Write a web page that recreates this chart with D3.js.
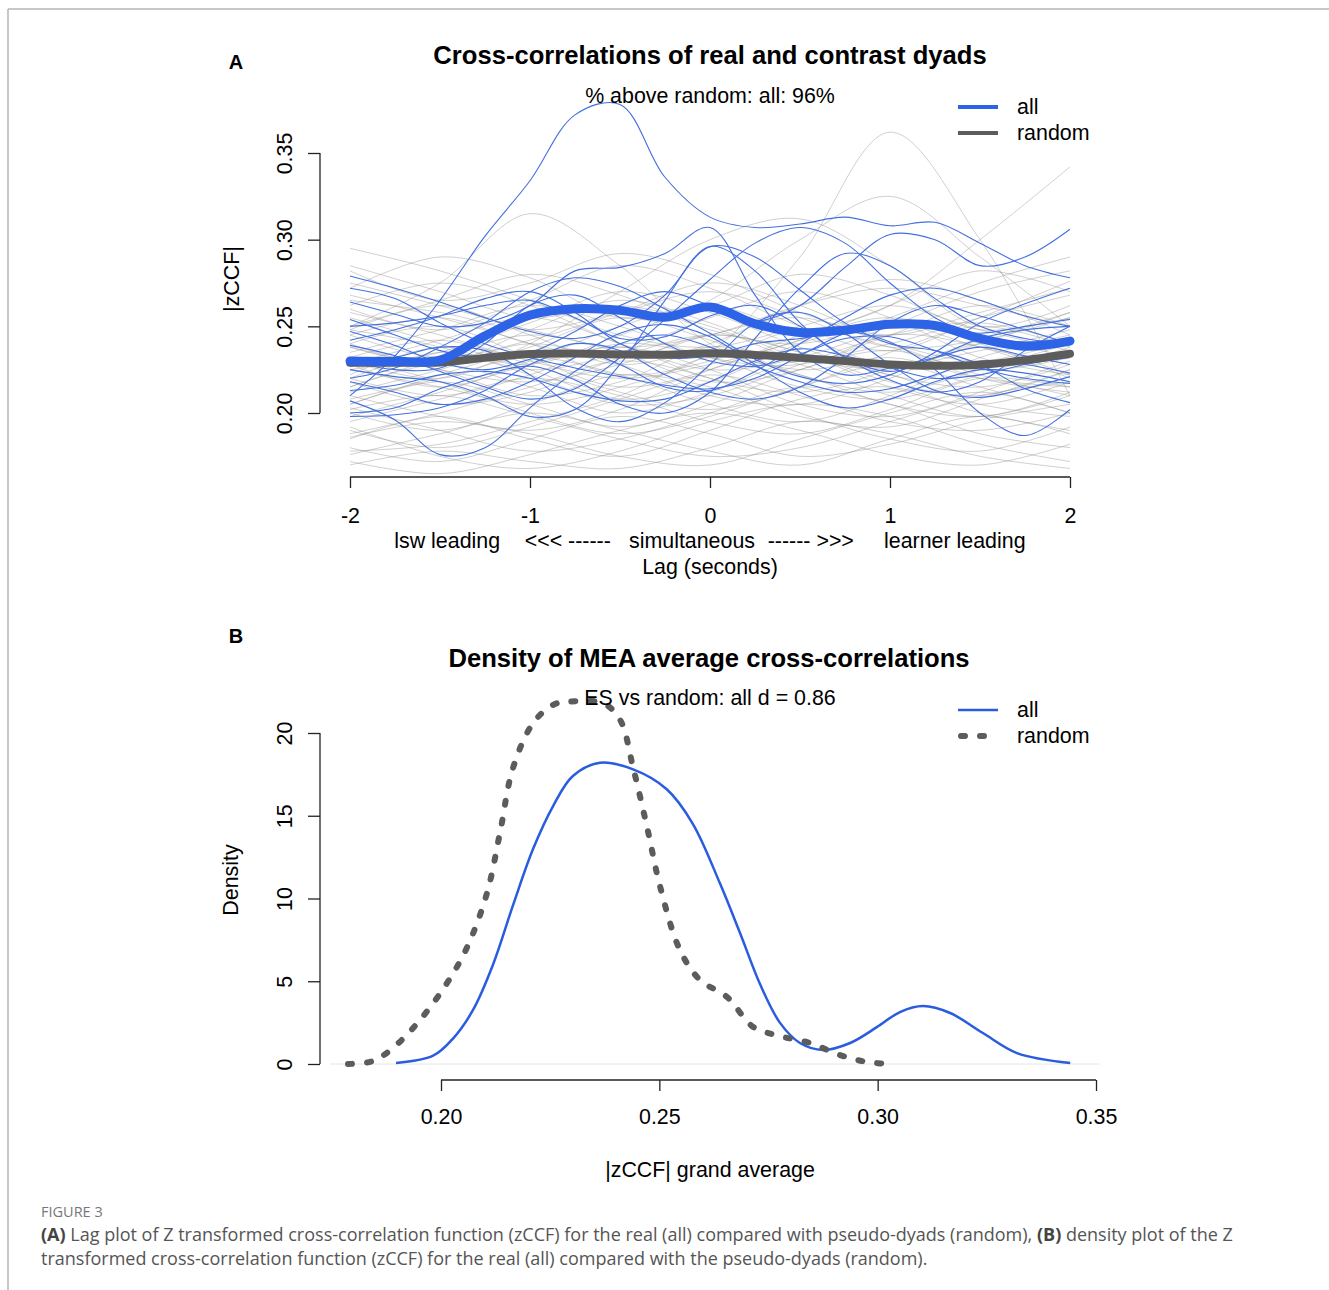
<!DOCTYPE html>
<html>
<head>
<meta charset="utf-8">
<script src="https://cdn.jsdelivr.net/npm/d3@7"></script>
<style>
  body { margin: 0; background: #fff; }
  svg text { font-family: "Liberation Sans", Arial, sans-serif; fill: #000; }
  svg text.caption { font-family: "Open Sans", sans-serif; fill: #555; }
</style>
</head>
<body>
<svg id="fig" width="1329" height="1290"></svg>
<script>
// ---- data ----
const lagFine = [-2, -1.75, -1.5, -1.25, -1, -0.75, -0.5, -0.25, 0, 0.25, 0.5, 0.75, 1, 1.25, 1.5, 1.75, 2];
const lagCoarse = [-2, -1.5, -1, -0.5, 0, 0.5, 1, 1.5, 2];
const lagTicks = [-2, -1, 0, 1, 2];
const zTicks = [0.20, 0.25, 0.30, 0.35];
const lagNotes = ["lsw leading", "<<< ------", "simultaneous", "------ >>>", "learner leading"];
const lagNotePos = [-1.46, -0.79, -0.10, 0.56, 1.36];

const meanAll = [0.2300, 0.2298, 0.2305, 0.2445, 0.2565, 0.2602, 0.2592, 0.2552, 0.2612,
  0.2515, 0.2465, 0.2478, 0.2512, 0.2505, 0.2430, 0.2385, 0.2415];
const meanRandom = [0.2290, 0.2290, 0.2292, 0.2318, 0.2340, 0.2343, 0.2338, 0.2336, 0.2345,
  0.2335, 0.2318, 0.2300, 0.2280, 0.2272, 0.2278, 0.2305, 0.2342];

// real dyads (blue), one row per dyad, on lagFine
const realDyads = [
  [0.210, 0.233, 0.265, 0.302, 0.334, 0.372, 0.378, 0.336, 0.313, 0.307, 0.309, 0.313, 0.308, 0.310, 0.298, 0.285, 0.278],
  [0.279, 0.272, 0.264, 0.255, 0.247, 0.243, 0.250, 0.268, 0.296, 0.290, 0.271, 0.252, 0.240, 0.236, 0.228, 0.214, 0.206],
  [0.264, 0.257, 0.250, 0.252, 0.262, 0.282, 0.284, 0.292, 0.307, 0.268, 0.235, 0.222, 0.226, 0.232, 0.238, 0.233, 0.228],
  [0.254, 0.245, 0.236, 0.232, 0.235, 0.247, 0.262, 0.270, 0.262, 0.253, 0.262, 0.284, 0.303, 0.300, 0.285, 0.290, 0.306],
  [0.207, 0.196, 0.176, 0.180, 0.203, 0.224, 0.240, 0.245, 0.238, 0.227, 0.218, 0.212, 0.214, 0.222, 0.230, 0.228, 0.223],
  [0.200, 0.203, 0.214, 0.222, 0.227, 0.219, 0.205, 0.200, 0.212, 0.243, 0.272, 0.292, 0.285, 0.266, 0.250, 0.243, 0.240],
  [0.242, 0.248, 0.256, 0.266, 0.270, 0.258, 0.240, 0.232, 0.233, 0.240, 0.243, 0.247, 0.241, 0.225, 0.200, 0.187, 0.202],
  [0.225, 0.221, 0.218, 0.210, 0.198, 0.202, 0.228, 0.265, 0.296, 0.282, 0.252, 0.232, 0.224, 0.232, 0.243, 0.248, 0.250],
  [0.198, 0.199, 0.203, 0.213, 0.228, 0.236, 0.228, 0.215, 0.213, 0.224, 0.240, 0.255, 0.268, 0.272, 0.265, 0.256, 0.250],
  [0.220, 0.226, 0.238, 0.252, 0.270, 0.278, 0.273, 0.260, 0.246, 0.231, 0.221, 0.217, 0.222, 0.235, 0.252, 0.263, 0.272],
  [0.247, 0.239, 0.229, 0.225, 0.231, 0.240, 0.236, 0.222, 0.212, 0.208, 0.215, 0.232, 0.252, 0.262, 0.256, 0.248, 0.240],
  [0.230, 0.225, 0.226, 0.240, 0.262, 0.268, 0.255, 0.240, 0.230, 0.227, 0.234, 0.243, 0.244, 0.236, 0.226, 0.220, 0.217],
  [0.213, 0.216, 0.222, 0.224, 0.220, 0.212, 0.207, 0.208, 0.218, 0.230, 0.237, 0.233, 0.226, 0.220, 0.222, 0.228, 0.232],
  [0.272, 0.266, 0.252, 0.240, 0.232, 0.226, 0.221, 0.216, 0.214, 0.220, 0.233, 0.246, 0.252, 0.250, 0.246, 0.250, 0.254],
  [0.227, 0.232, 0.238, 0.236, 0.222, 0.203, 0.195, 0.206, 0.228, 0.252, 0.258, 0.246, 0.228, 0.213, 0.209, 0.214, 0.221],
  [0.250, 0.252, 0.256, 0.262, 0.265, 0.255, 0.243, 0.244, 0.256, 0.262, 0.250, 0.232, 0.219, 0.212, 0.218, 0.236, 0.250],
  [0.239, 0.233, 0.224, 0.215, 0.208, 0.214, 0.232, 0.254, 0.277, 0.298, 0.307, 0.298, 0.275, 0.255, 0.244, 0.241, 0.243],
  [0.218, 0.212, 0.205, 0.208, 0.218, 0.232, 0.246, 0.251, 0.244, 0.228, 0.212, 0.203, 0.208, 0.218, 0.225, 0.223, 0.218]
];

// pseudo dyads (grey), on lagCoarse
const randomDyads = [
  [0.225, 0.215, 0.205, 0.215, 0.235, 0.290, 0.362, 0.300, 0.210],
  [0.240, 0.250, 0.232, 0.215, 0.225, 0.245, 0.262, 0.300, 0.342],
  [0.250, 0.275, 0.315, 0.285, 0.240, 0.225, 0.232, 0.220, 0.215],
  [0.230, 0.220, 0.240, 0.270, 0.300, 0.312, 0.285, 0.250, 0.262],
  [0.220, 0.235, 0.228, 0.245, 0.265, 0.300, 0.325, 0.290, 0.250],
  [0.285, 0.270, 0.255, 0.262, 0.250, 0.232, 0.240, 0.255, 0.268],
  [0.295, 0.282, 0.265, 0.245, 0.238, 0.250, 0.262, 0.248, 0.236],
  [0.272, 0.290, 0.278, 0.255, 0.262, 0.280, 0.268, 0.248, 0.255],
  [0.260, 0.248, 0.265, 0.285, 0.272, 0.250, 0.236, 0.255, 0.276],
  [0.248, 0.262, 0.245, 0.228, 0.240, 0.262, 0.277, 0.265, 0.245],
  [0.240, 0.228, 0.248, 0.265, 0.252, 0.232, 0.226, 0.240, 0.258],
  [0.235, 0.248, 0.262, 0.250, 0.232, 0.228, 0.245, 0.262, 0.250],
  [0.228, 0.215, 0.230, 0.250, 0.262, 0.245, 0.228, 0.236, 0.248],
  [0.222, 0.238, 0.225, 0.208, 0.218, 0.240, 0.252, 0.238, 0.228],
  [0.218, 0.205, 0.212, 0.232, 0.245, 0.235, 0.218, 0.210, 0.225],
  [0.212, 0.225, 0.240, 0.228, 0.210, 0.205, 0.220, 0.240, 0.232],
  [0.205, 0.218, 0.205, 0.192, 0.205, 0.225, 0.236, 0.222, 0.210],
  [0.200, 0.190, 0.205, 0.222, 0.215, 0.198, 0.192, 0.208, 0.225],
  [0.195, 0.208, 0.220, 0.210, 0.195, 0.188, 0.202, 0.220, 0.215],
  [0.190, 0.180, 0.192, 0.208, 0.222, 0.210, 0.195, 0.190, 0.200],
  [0.185, 0.198, 0.185, 0.175, 0.190, 0.208, 0.215, 0.200, 0.190],
  [0.180, 0.172, 0.185, 0.198, 0.188, 0.175, 0.182, 0.196, 0.205],
  [0.176, 0.188, 0.200, 0.190, 0.178, 0.170, 0.185, 0.198, 0.188],
  [0.172, 0.165, 0.176, 0.190, 0.200, 0.190, 0.176, 0.170, 0.182],
  [0.205, 0.222, 0.238, 0.255, 0.242, 0.222, 0.212, 0.225, 0.240],
  [0.232, 0.242, 0.228, 0.212, 0.202, 0.215, 0.235, 0.250, 0.238],
  [0.255, 0.240, 0.225, 0.235, 0.255, 0.270, 0.255, 0.232, 0.222],
  [0.245, 0.232, 0.242, 0.258, 0.275, 0.262, 0.240, 0.225, 0.232],
  [0.268, 0.255, 0.240, 0.222, 0.230, 0.248, 0.238, 0.220, 0.212],
  [0.225, 0.235, 0.252, 0.270, 0.258, 0.238, 0.222, 0.215, 0.228],
  [0.210, 0.198, 0.190, 0.202, 0.225, 0.242, 0.255, 0.240, 0.222],
  [0.198, 0.212, 0.228, 0.238, 0.225, 0.205, 0.198, 0.212, 0.230],
  [0.215, 0.228, 0.215, 0.200, 0.212, 0.230, 0.222, 0.205, 0.198],
  [0.238, 0.225, 0.210, 0.218, 0.238, 0.228, 0.210, 0.198, 0.212],
  [0.262, 0.275, 0.262, 0.240, 0.225, 0.232, 0.250, 0.270, 0.282],
  [0.282, 0.265, 0.275, 0.292, 0.280, 0.258, 0.245, 0.258, 0.272],
  [0.250, 0.265, 0.280, 0.268, 0.248, 0.240, 0.255, 0.275, 0.290],
  [0.232, 0.218, 0.200, 0.188, 0.198, 0.215, 0.228, 0.215, 0.200],
  [0.188, 0.200, 0.215, 0.230, 0.220, 0.200, 0.185, 0.178, 0.192],
  [0.203, 0.190, 0.178, 0.185, 0.200, 0.215, 0.205, 0.188, 0.180],
  [0.178, 0.182, 0.195, 0.210, 0.232, 0.222, 0.205, 0.198, 0.210],
  [0.245, 0.255, 0.240, 0.232, 0.245, 0.255, 0.240, 0.230, 0.242],
  [0.220, 0.210, 0.222, 0.240, 0.232, 0.215, 0.208, 0.222, 0.238],
  [0.258, 0.245, 0.230, 0.220, 0.228, 0.242, 0.262, 0.282, 0.270],
  [0.208, 0.220, 0.232, 0.222, 0.205, 0.195, 0.210, 0.232, 0.245],
  [0.192, 0.175, 0.168, 0.178, 0.195, 0.205, 0.198, 0.182, 0.172],
  [0.228, 0.242, 0.255, 0.240, 0.220, 0.212, 0.225, 0.242, 0.258],
  [0.265, 0.258, 0.248, 0.258, 0.270, 0.255, 0.238, 0.242, 0.255],
  [0.215, 0.232, 0.245, 0.235, 0.218, 0.225, 0.245, 0.238, 0.220],
  [0.238, 0.225, 0.218, 0.228, 0.245, 0.235, 0.215, 0.205, 0.218],
  [0.186, 0.195, 0.188, 0.175, 0.170, 0.185, 0.200, 0.212, 0.200],
  [0.170, 0.178, 0.172, 0.168, 0.180, 0.195, 0.188, 0.175, 0.168],
  [0.202, 0.210, 0.198, 0.185, 0.175, 0.180, 0.195, 0.210, 0.218],
  [0.248, 0.238, 0.222, 0.205, 0.210, 0.228, 0.245, 0.252, 0.240],
  [0.275, 0.262, 0.248, 0.238, 0.245, 0.262, 0.272, 0.262, 0.250]
];

// density curves (panel B)
const densAllX = [0.1897, 0.1982, 0.2028, 0.2073, 0.2119, 0.2165, 0.2211, 0.2257, 0.2302, 0.2364, 0.2440,
  0.2517, 0.2577, 0.2639, 0.2685, 0.2731, 0.2776, 0.2822, 0.2875, 0.2937, 0.2999, 0.3051, 0.3104,
  0.3166, 0.3241, 0.3319, 0.3441];
const densAllY = [0.06, 0.50, 1.55, 3.25, 6.0, 9.6, 13.0, 15.6, 17.4, 18.2, 17.8,
  16.6, 14.5, 10.9, 7.9, 4.8, 2.5, 1.27, 0.85, 1.27, 2.24, 3.14, 3.5,
  3.08, 1.87, 0.66, 0.06];
const densRandX = [0.1787, 0.1844, 0.1890, 0.1952, 0.2014, 0.2060, 0.2105, 0.2135, 0.2165, 0.2211, 0.2257,
  0.2295, 0.2371, 0.2410, 0.2440, 0.2472, 0.2502, 0.2547, 0.2593, 0.2655, 0.2715, 0.2776, 0.2845,
  0.2914, 0.2976, 0.3035];
const densRandY = [0, 0.18, 0.97, 2.66, 4.9, 7.07, 10.3, 13.96, 17.9, 20.6, 21.7,
  21.9, 21.8, 20.8, 17.9, 14.3, 10.7, 6.9, 5.08, 4.05, 2.24, 1.69, 1.27,
  0.54, 0.12, 0];
const densXTicks = [0.20, 0.25, 0.30, 0.35];
const densYTicks = [0, 5, 10, 15, 20];

const blueThin = "#4370e0";
const blueThick = "#2d63e6";
const greyThick = "#5c5c5c";
const fs = 21.4;      // R text size in the figure
const fsTitle = 25.6;

const svg = d3.select("#fig");

// frame of the figure page
svg.append("line").attr("x1", 8).attr("x2", 1329).attr("y1", 9).attr("y2", 9)
  .attr("stroke", "#b5b5b5").attr("stroke-width", 1.5);
svg.append("line").attr("x1", 8).attr("x2", 8).attr("y1", 9).attr("y2", 1290)
  .attr("stroke", "#b5b5b5").attr("stroke-width", 1.5);

const hyphenFmt = f => v => f(v).replace("\u2212", "-");

// R-style left axis: line only between first and last tick, labels parallel to axis
function leftAxis(scale, ticks, fmt, x) {
  const ax = svg.append("g")
    .attr("transform", `translate(${x},0)`)
    .call(d3.axisLeft(scale).tickValues(ticks).tickSize(12).tickFormat(fmt));
  ax.attr("font-family", null).attr("font-size", null);
  ax.select(".domain").remove();
  ax.append("line")
    .attr("y1", scale(ticks[0])).attr("y2", scale(ticks[ticks.length - 1]))
    .attr("stroke", "#222").attr("stroke-width", 1.3);
  ax.selectAll(".tick line").attr("stroke", "#222").attr("stroke-width", 1.3);
  ax.selectAll(".tick text")
    .attr("transform", "rotate(-90)")
    .attr("x", 0).attr("y", -28).attr("dy", null)
    .attr("text-anchor", "middle")
    .attr("font-size", fs).attr("fill", "#000");
}

function bottomAxis(scale, ticks, fmt, y, labelY) {
  const ax = svg.append("g")
    .attr("transform", `translate(0,${y})`)
    .call(d3.axisBottom(scale).tickValues(ticks).tickSize(11).tickFormat(fmt));
  ax.attr("font-family", null).attr("font-size", null);
  ax.select(".domain").remove();
  ax.append("line")
    .attr("x1", scale(ticks[0])).attr("x2", scale(ticks[ticks.length - 1]))
    .attr("stroke", "#222").attr("stroke-width", 1.3);
  ax.selectAll(".tick line").attr("stroke", "#222").attr("stroke-width", 1.3);
  ax.selectAll(".tick text")
    .attr("y", labelY).attr("dy", null)
    .attr("font-size", fs).attr("fill", "#000");
}

function label(x, y, str, size, opts = {}) {
  const t = svg.append("text")
    .attr("x", x).attr("y", y)
    .attr("text-anchor", opts.anchor || "middle")
    .attr("font-size", size)
    .text(str);
  if (opts.bold) t.attr("font-weight", "bold");
  if (opts.rotate) t.attr("transform", `rotate(-90,${x},${y})`);
  return t;
}

// ===== Panel A: lag plot =====
const xA = d3.scaleLinear().domain([-2, 2]).range([350, 1070]);
const yA = d3.scaleLinear().domain([0.20, 0.35]).range([413, 153]);

svg.append("clipPath").attr("id", "clipA")
  .append("rect").attr("x", 340).attr("y", 70).attr("width", 740).attr("height", 407);

const lineA = lags => d3.line()
  .x((d, i) => xA(lags[i]))
  .y(d => yA(d))
  .curve(d3.curveCatmullRom.alpha(0.5));

const plotA = svg.append("g").attr("clip-path", "url(#clipA)");

plotA.selectAll("path.rand")
  .data(randomDyads)
  .enter()
  .append("path")
  .attr("class", "rand")
  .attr("d", lineA(lagCoarse))
  .attr("fill", "none")
  .attr("stroke", "#8a8a8a")
  .attr("stroke-opacity", 0.4)
  .attr("stroke-width", 1);

plotA.selectAll("path.real")
  .data(realDyads)
  .enter()
  .append("path")
  .attr("class", "real")
  .attr("d", lineA(lagFine))
  .attr("fill", "none")
  .attr("stroke", blueThin)
  .attr("stroke-width", 1.1);

plotA.append("path")
  .attr("d", lineA(lagFine)(meanRandom))
  .attr("fill", "none")
  .attr("stroke", greyThick)
  .attr("stroke-width", 8)
  .attr("stroke-linecap", "round");

plotA.append("path")
  .attr("d", lineA(lagFine)(meanAll))
  .attr("fill", "none")
  .attr("stroke", blueThick)
  .attr("stroke-width", 9)
  .attr("stroke-linecap", "round");

leftAxis(yA, zTicks, d3.format(".2f"), 320);
bottomAxis(xA, lagTicks, hyphenFmt(d3.format("d")), 477, 46);

label(236, 69, "A", 20, { bold: true });
label(710, 64, "Cross-correlations of real and contrast dyads", fsTitle, { bold: true });
label(710, 103, "% above random: all: 96%", fs);
lagNotes.forEach((s, i) => label(xA(lagNotePos[i]), 548, s, fs));
label(710, 574, "Lag (seconds)", fs);
label(239, 279, "|zCCF|", fs, { rotate: true });

// legend A
svg.append("line").attr("x1", 958).attr("x2", 998).attr("y1", 107).attr("y2", 107)
  .attr("stroke", blueThick).attr("stroke-width", 4);
svg.append("line").attr("x1", 958).attr("x2", 998).attr("y1", 133).attr("y2", 133)
  .attr("stroke", greyThick).attr("stroke-width", 4);
label(1017, 114, "all", fs, { anchor: "start" });
label(1017, 140, "random", fs, { anchor: "start" });

// ===== Panel B: density =====
const xB = d3.scaleLinear().domain([0.20, 0.35]).range([441, 1096]);
const yB = d3.scaleLinear().domain([0, 20]).range([1064, 733]);

svg.append("line")
  .attr("x1", 330).attr("x2", 1100).attr("y1", yB(0)).attr("y2", yB(0))
  .attr("stroke", "#e6e6e6").attr("stroke-width", 1);

const lineB = xs => d3.line()
  .x((d, i) => xB(xs[i]))
  .y(d => yB(d))
  .curve(d3.curveCatmullRom.alpha(0.5));

svg.append("path")
  .attr("d", lineB(densAllX)(densAllY))
  .attr("fill", "none")
  .attr("stroke", "#2a5ce0")
  .attr("stroke-width", 2.5);

svg.append("path")
  .attr("d", lineB(densRandX)(densRandY))
  .attr("fill", "none")
  .attr("stroke", greyThick)
  .attr("stroke-width", 6)
  .attr("stroke-linecap", "round")
  .attr("stroke-dasharray", "4,15");

leftAxis(yB, densYTicks, d3.format("d"), 320);
bottomAxis(xB, densXTicks, d3.format(".2f"), 1080, 44);

label(236, 643, "B", 20, { bold: true });
label(709, 667, "Density of MEA average cross-correlations", fsTitle, { bold: true });
label(710, 705, "ES vs random: all d = 0.86", fs);
label(710, 1177, "|zCCF| grand average", fs);
label(238, 880, "Density", fs, { rotate: true });

// legend B
svg.append("line").attr("x1", 958).attr("x2", 998).attr("y1", 710).attr("y2", 710)
  .attr("stroke", "#2a5ce0").attr("stroke-width", 2.5);
svg.append("line").attr("x1", 961).attr("x2", 985).attr("y1", 736).attr("y2", 736)
  .attr("stroke", greyThick).attr("stroke-width", 6)
  .attr("stroke-linecap", "round").attr("stroke-dasharray", "4,15");
label(1017, 717, "all", fs, { anchor: "start" });
label(1017, 743, "random", fs, { anchor: "start" });

// ===== caption =====
svg.append("text").attr("class", "caption")
  .attr("x", 41).attr("y", 1217).attr("font-size", 14.5).style("fill", "#777")
  .text("FIGURE 3");

const cap1 = svg.append("text").attr("class", "caption")
  .attr("x", 41).attr("y", 1241).attr("font-size", 18);
cap1.append("tspan").attr("font-weight", "bold").style("fill", "#444").text("(A)");
cap1.append("tspan").text(" Lag plot of Z transformed cross-correlation function (zCCF) for the real (all) compared with pseudo-dyads (random), ");
cap1.append("tspan").attr("font-weight", "bold").style("fill", "#444").text("(B)");
cap1.append("tspan").text(" density plot of the Z");

svg.append("text").attr("class", "caption")
  .attr("x", 41).attr("y", 1265).attr("font-size", 18)
  .text("transformed cross-correlation function (zCCF) for the real (all) compared with the pseudo-dyads (random).");
</script>
</body>
</html>
